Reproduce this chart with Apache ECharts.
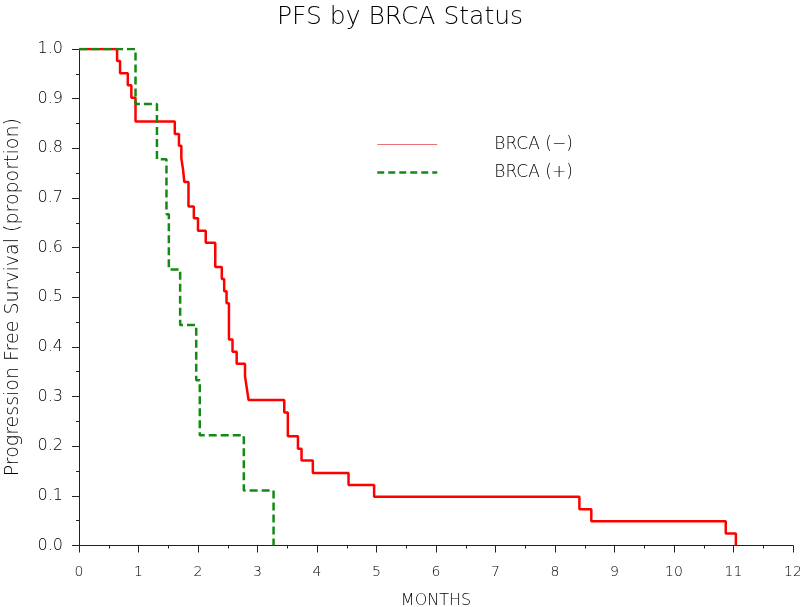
<!DOCTYPE html>
<html>
<head>
<meta charset="utf-8">
<script src="https://cdn.jsdelivr.net/npm/echarts@6/dist/echarts.min.js"></script>
<style>html,body{margin:0;padding:0;background:#fff;}#chart{width:800px;height:607px;}</style>
</head>
<body>
<div id="chart"></div>
<script>
// BRCA (-) : event times (months) and survival proportion after each step
var negTimes = [0, 0.64, 0.69, 0.82, 0.88, 0.95, 1.61, 1.68, 1.72, 1.75, 1.77, 1.84, 1.93, 2.00, 2.13, 2.29, 2.40, 2.44, 2.48, 2.52, 2.58, 2.65, 2.79, 2.82, 2.85, 3.45, 3.51, 3.68, 3.74, 3.93, 4.53, 4.96, 8.41, 8.61, 10.87, 11.04];
var negSurv  = [1.0, 0.976, 0.951, 0.927, 0.902, 0.854, 0.829, 0.805, 0.780, 0.756, 0.732, 0.683, 0.659, 0.634, 0.610, 0.561, 0.537, 0.512, 0.488, 0.415, 0.390, 0.366, 0.341, 0.317, 0.293, 0.268, 0.220, 0.195, 0.171, 0.146, 0.122, 0.098, 0.073, 0.049, 0.024, 0.0];
// BRCA (+)
var posTimes = [0, 0.95, 1.31, 1.47, 1.51, 1.70, 1.97, 2.03, 2.77, 3.27];
var posSurv  = [1.0, 0.889, 0.778, 0.667, 0.556, 0.444, 0.333, 0.222, 0.111, 0.0];
var xTicks = [0,1,2,3,4,5,6,7,8,9,10,11,12];
var yTicks = [0,0.1,0.2,0.3,0.4,0.5,0.6,0.7,0.8,0.9,1.0];
var seriesNames = ['BRCA (\u2212)', 'BRCA (+)'];

function pairs(t, s){ return t.map(function(v,i){ return [v, s[i]]; }); }

var FONT = '"DejaVu Sans", Verdana, sans-serif';
var W = 200;
var TXT = '#000';
var chart = echarts.init(document.getElementById('chart'), null, {renderer:'canvas'});
chart.setOption({
  animation: false,
  backgroundColor: '#fff',
  title: {
    text: 'PFS by BRCA Status', left: 'center', top: 0,
    textStyle: {fontFamily: FONT, fontWeight: W, fontSize: 25, color: TXT}
  },
  legend: {
    orient: 'vertical', left: 376, top: 136, padding: 0,
    itemWidth: 60, itemHeight: 14, itemGap: 11,
    itemStyle: {opacity: 0},
    textStyle: {fontFamily: FONT, fontWeight: W, fontSize: 17, color: TXT, padding: [0,0,0,52]},
    data: [
      {name: seriesNames[0], lineStyle: {width: 1, color: '#e8737a'}},
      {name: seriesNames[1], lineStyle: {width: 2.5, type: [7, 4]}}
    ]
  },
  grid: {left: 79, right: 7, top: 49, bottom: 61.5, outerBoundsMode: 'none', containLabel: false},
  xAxis: {
    type: 'value', min: xTicks[0], max: xTicks[xTicks.length-1], interval: 1,
    offset: 3,
    name: 'MONTHS', nameLocation: 'middle', nameGap: 44,
    nameTextStyle: {fontFamily: FONT, fontWeight: W, fontSize: 16, color: TXT},
    axisLine: {show: true, lineStyle: {color: '#222', width: 1}},
    axisTick: {show: true, length: 7, lineStyle: {color: '#222'}},
    minorTick: {show: true, splitNumber: 2, length: 3, lineStyle: {color: '#222'}},
    axisLabel: {fontFamily: FONT, fontWeight: W, fontSize: 14, color: TXT, margin: 17},
    splitLine: {show: false}
  },
  yAxis: {
    type: 'value', min: yTicks[0], max: yTicks[yTicks.length-1], interval: 0.1,
    offset: 4,
    name: 'Progression Free Survival (proportion)', nameLocation: 'middle', nameGap: 52,
    nameTextStyle: {fontFamily: FONT, fontWeight: W, fontSize: 19, color: TXT},
    axisLine: {show: true, lineStyle: {color: '#222', width: 1}},
    axisTick: {show: true, length: 7, lineStyle: {color: '#222'}},
    minorTick: {show: true, splitNumber: 2, length: 3, lineStyle: {color: '#222'}},
    axisLabel: {fontFamily: FONT, fontWeight: W, fontSize: 16, color: TXT, margin: 12,
      formatter: function(v){ return v.toFixed(1); }},
    splitLine: {show: false}
  },
  series: [
    {
      name: seriesNames[0], type: 'line', step: 'end', symbol: 'none',
      data: pairs(negTimes, negSurv),
      lineStyle: {color: '#ff0000', width: 2.5},
      itemStyle: {color: '#ff0000'}, z: 2
    },
    {
      name: seriesNames[1], type: 'line', step: 'end', symbol: 'none',
      data: pairs(posTimes, posSurv),
      lineStyle: {color: '#138a13', width: 2.5, type: [8, 4]},
      itemStyle: {color: '#138a13'}, z: 3
    }
  ]
});
</script>
</body>
</html>
